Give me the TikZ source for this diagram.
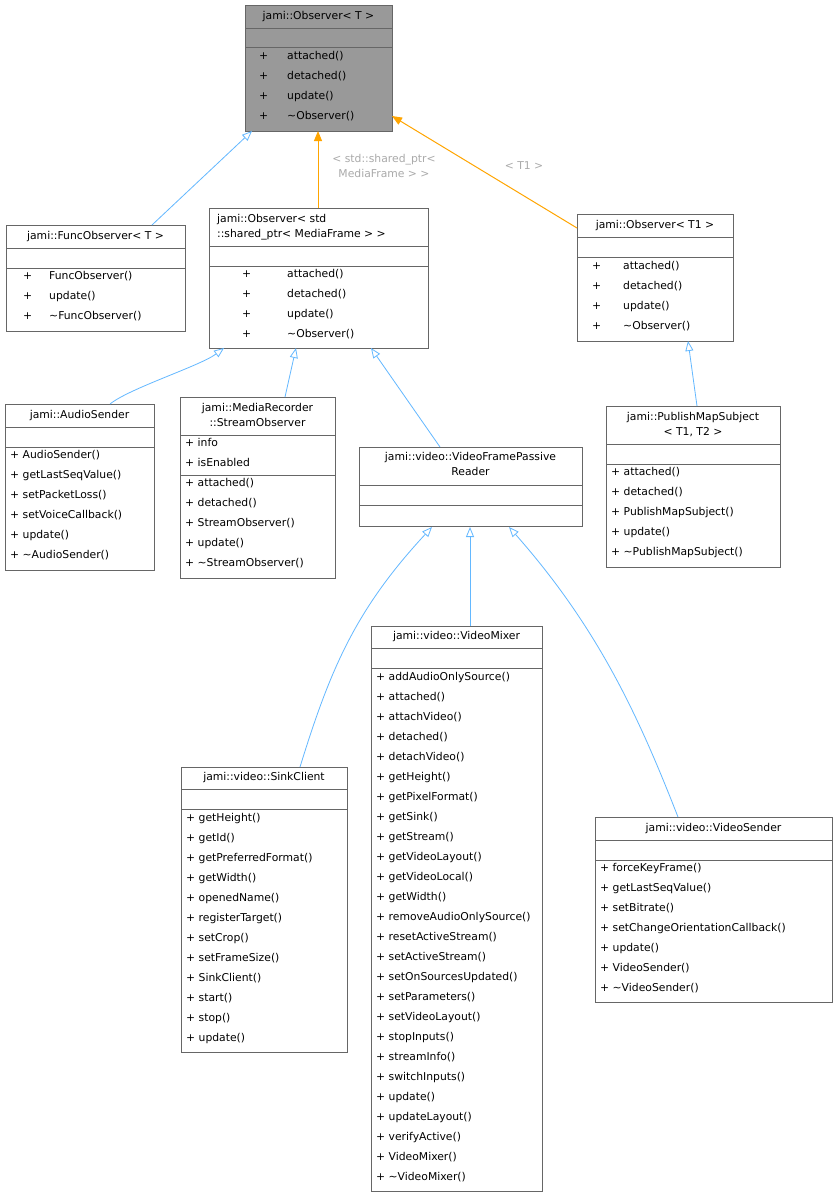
\documentclass[tikz,border=0pt]{standalone}
\usepackage{fontspec}
\setmainfont{DejaVu Sans}
\usetikzlibrary{arrows.meta}
\definecolor{inhblue}{RGB}{99,184,255}
\definecolor{tmplorange}{RGB}{255,165,0}
\definecolor{lblgray}{RGB}{170,170,170}
\tikzset{
  box/.style={draw=black!60, line width=0.9pt, inner sep=0pt},
  sep/.style={draw=black!60, line width=0.9pt},
  fnt/.style={inner sep=0pt, text height=7.8pt, text depth=2.2pt, font=\fontsize{10.8}{12.5}\selectfont},
  txt/.style={fnt, anchor=west},
  ttl/.style={fnt},
  lbl/.style={fnt, text=lblgray},
  inh/.style={color=inhblue, line width=0.8pt, -{Triangle[open,length=10pt,width=8pt]}},
  tmpl/.style={color=tmplorange, line width=1pt, -{Triangle[length=10pt,width=8pt]}}
}
\newcommand{\cbox}[6]{\node[box, fill=#6, minimum width={(#4-#2)*1pt}, minimum height={(#5-#3)*1pt}] (#1) at ({(#2+#4)/2},{(#3+#5)/2}) {};}
\newcommand{\hsep}[3]{\draw[sep] (#1,#3) -- (#2,#3);}
\begin{document}
\begin{tikzpicture}[x=1pt,y=-1pt]
\useasboundingbox (0,0) rectangle (837,1197);
\fill[white] (0,0) rectangle (837,1197);
% Observer<T>
\cbox{obsT}{245}{5}{392}{131}{black!40}
\hsep{245}{392}{28}\hsep{245}{392}{47}
\node[ttl] (obsTt) at (318.5,17) {jami::Observer< T >};
\foreach \y/\t [count=\i] in {57/attached(),77/detached(),97/update(),117/\textasciitilde Observer()}{
  \node[txt] (obsTp\i) at (259,\y) {+}; \node[txt] (obsTm\i) at (287,\y) {\t};}
% FuncObserver
\cbox{func}{6}{225}{185}{331}{white}
\hsep{6}{185}{248}\hsep{6}{185}{268}
\node[ttl] (funct) at (95.5,237) {jami::FuncObserver< T >};
\foreach \y/\t [count=\i] in {277/FuncObserver(),297/update(),317/\textasciitilde FuncObserver()}{
  \node[txt] (funcp\i) at (23,\y) {+}; \node[txt] (funcm\i) at (49,\y) {\t};}
% Observer<shared_ptr>
\cbox{obsS}{209}{208}{428}{348}{white}
\hsep{209}{428}{246}\hsep{209}{428}{266}
\node[txt] (obsSt1) at (217,220) {jami::Observer< std};
\node[txt] (obsSt2) at (217,235) {::shared\_ptr< MediaFrame > >};
\foreach \y/\t [count=\i] in {275/attached(),295/detached(),315/update(),335/\textasciitilde Observer()}{
  \node[txt] (obsSp\i) at (242,\y) {+}; \node[txt] (obsSm\i) at (287,\y) {\t};}
% Observer<T1>
\cbox{obsT1}{577}{214}{733}{341}{white}
\hsep{577}{733}{237}\hsep{577}{733}{257}
\node[ttl] (obsT1t) at (655,226) {jami::Observer< T1 >};
\foreach \y/\t [count=\i] in {267/attached(),287/detached(),307/update(),327/\textasciitilde Observer()}{
  \node[txt] (obsT1p\i) at (592,\y) {+}; \node[txt] (obsT1m\i) at (623,\y) {\t};}
% AudioSender
\cbox{audio}{5}{404}{154}{570}{white}
\hsep{5}{154}{427}\hsep{5}{154}{447}
\node[ttl] (audiot) at (79.5,416) {jami::AudioSender};
\foreach \y/\t [count=\i] in {456/AudioSender(),476/getLastSeqValue(),496/setPacketLoss(),516/setVoiceCallback(),536/update(),556/\textasciitilde AudioSender()}{
  \node[txt] (audiom\i) at (10,\y) {+ \t};}
% StreamObserver
\cbox{stream}{180}{397}{335}{578}{white}
\hsep{180}{335}{435}\hsep{180}{335}{475}
\node[ttl] (streamt1) at (257.5,409) {jami::MediaRecorder};
\node[ttl] (streamt2) at (257.5,424) {::StreamObserver};
\node[txt] (streama1) at (185,444) {+ info};
\node[txt] (streama2) at (185,464) {+ isEnabled};
\foreach \y/\t [count=\i] in {484/attached(),504/detached(),524/StreamObserver(),544/update(),564/\textasciitilde StreamObserver()}{
  \node[txt] (streamm\i) at (185,\y) {+ \t};}
% VideoFramePassiveReader
\cbox{vfpr}{359}{447}{582}{526}{white}
\hsep{359}{582}{485}\hsep{359}{582}{505}
\node[ttl] (vfprt1) at (470.5,458) {jami::video::VideoFramePassive};
\node[ttl] (vfprt2) at (470.5,473) {Reader};
% PublishMapSubject
\cbox{pub}{606}{406}{780}{567}{white}
\hsep{606}{780}{444}\hsep{606}{780}{464}
\node[ttl] (pubt1) at (693,418) {jami::PublishMapSubject};
\node[ttl] (pubt2) at (693,433) {< T1, T2 >};
\foreach \y/\t [count=\i] in {473/attached(),493/detached(),513/PublishMapSubject(),533/update(),553/\textasciitilde PublishMapSubject()}{
  \node[txt] (pubm\i) at (611,\y) {+ \t};}
% SinkClient
\cbox{sink}{181}{767}{347}{1052}{white}
\hsep{181}{347}{789}\hsep{181}{347}{809}
\node[ttl] (sinkt) at (264,778) {jami::video::SinkClient};
\foreach \y/\t [count=\i] in {819/getHeight(),839/getId(),859/getPreferredFormat(),879/getWidth(),899/openedName(),919/registerTarget(),939/setCrop(),959/setFrameSize(),979/SinkClient(),999/start(),1019/stop(),1039/update()}{
  \node[txt] (sinkm\i) at (186,\y) {+ \t};}
% VideoMixer
\cbox{mixer}{371}{626}{542}{1191}{white}
\hsep{371}{542}{648}\hsep{371}{542}{668}
\node[ttl] (mixert) at (456.5,637) {jami::video::VideoMixer};
\foreach \t [count=\i] in {addAudioOnlySource(),attached(),attachVideo(),detached(),detachVideo(),getHeight(),getPixelFormat(),getSink(),getStream(),getVideoLayout(),getVideoLocal(),getWidth(),removeAudioOnlySource(),resetActiveStream(),setActiveStream(),setOnSourcesUpdated(),setParameters(),setVideoLayout(),stopInputs(),streamInfo(),switchInputs(),update(),updateLayout(),verifyActive(),VideoMixer(),\textasciitilde VideoMixer()}{
  \node[txt] (mixerm\i) at (376,{658+20*\i}) {+ \t};}
% VideoSender
\cbox{sender}{595}{817}{832}{1002}{white}
\hsep{595}{832}{840}\hsep{595}{832}{860}
\node[ttl] (sendert) at (713.5,829) {jami::video::VideoSender};
\foreach \t [count=\i] in {forceKeyFrame(),getLastSeqValue(),setBitrate(),setChangeOrientationCallback(),update(),VideoSender(),\textasciitilde VideoSender()}{
  \node[txt] (senderm\i) at (600,{849+20*\i}) {+ \t};}
% edges
\coordinate (e1a) at (152,225); \coordinate (e1b) at (252,131);
\draw[inh] (e1a) -- (e1b);
\coordinate (e2a) at (318,208); \coordinate (e2b) at (318,131);
\draw[tmpl] (e2a) -- (e2b);
\node[lbl] (l2a) at (384,160) {< std::shared\_ptr<};
\node[lbl] (l2b) at (384,175) {MediaFrame > >};
\coordinate (e3a) at (577,228); \coordinate (e3b) at (392,116);
\draw[tmpl] (e3a) -- (e3b);
\node[lbl] (l3) at (524,167) {< T1 >};
\coordinate (e4a) at (110,404); \coordinate (e4b) at (224,348);
\draw[inh] (e4a) .. controls (130,388) and (200,366) .. (e4b);
\coordinate (e5a) at (285,397); \coordinate (e5b) at (296,348);
\draw[inh] (e5a) -- (e5b);
\coordinate (e6a) at (440,447); \coordinate (e6b) at (371,348);
\draw[inh] (e6a) -- (e6b);
\coordinate (e7a) at (697,406); \coordinate (e7b) at (688,341);
\draw[inh] (e7a) -- (e7b);
\coordinate (e8a) at (300,767); \coordinate (e8b) at (432,527);
\draw[inh] (e8a) .. controls (330,670) and (355,610) .. (e8b);
\coordinate (e9a) at (470,626); \coordinate (e9b) at (470,527);
\draw[inh] (e9a) -- (e9b);
\coordinate (e10a) at (678,817); \coordinate (e10b) at (509,527);
\draw[inh] (e10a) .. controls (640,720) and (600,630) .. (e10b);
\end{tikzpicture}
\end{document}
